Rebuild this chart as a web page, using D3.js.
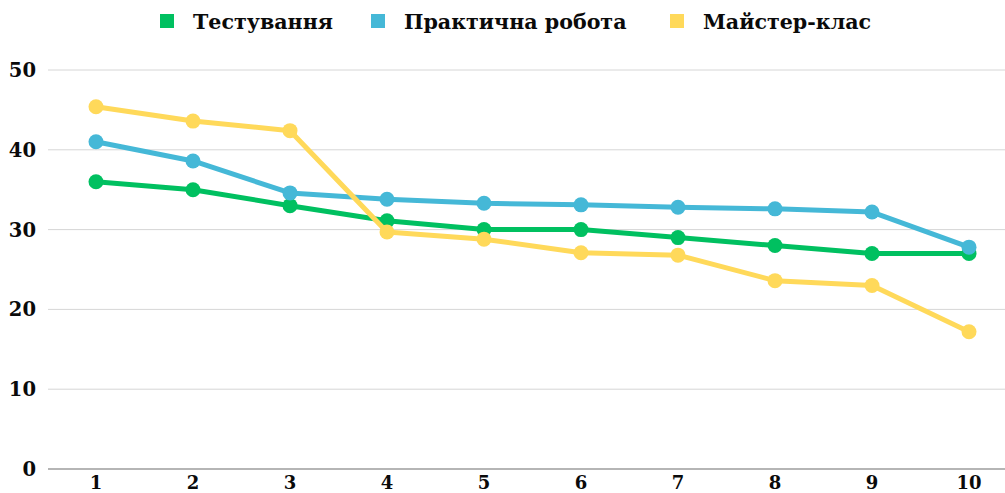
<!DOCTYPE html>
<html>
<head>
<meta charset="utf-8">
<script src="https://cdn.jsdelivr.net/npm/d3@7"></script>
<style>
  body { margin: 0; background: #fff; }
  text { font-family: "DejaVu Serif", "Liberation Serif", serif; font-weight: bold; fill: #0a0a0a; }
</style>
</head>
<body>
<svg id="chart"></svg>
<script>
// data
var categories = ["1", "2", "3", "4", "5", "6", "7", "8", "9", "10"];
var seriesNames = ["Тестування", "Практична робота", "Майстер-клас"];
var testing = [36, 35, 33, 31.1, 30, 30, 29, 28, 27, 27];
var practical = [41, 38.6, 34.6, 33.8, 33.3, 33.1, 32.8, 32.6, 32.2, 27.8];
var masterclass = [45.4, 43.6, 42.4, 29.7, 28.8, 27.1, 26.8, 23.6, 23, 17.2];
var yTicks = [0, 10, 20, 30, 40, 50];
var colors = ["#00c060", "#45b8d7", "#ffd95a"];

var width = 1005, height = 493;
var margin = { top: 70, right: 0, bottom: 24, left: 48 };

var svg = d3.select("#chart")
    .attr("width", width)
    .attr("height", height);

var x = d3.scalePoint()
    .domain(categories)
    .range([96, 969]);

var y = d3.scaleLinear()
    .domain([0, 50])
    .range([469, 70]);

// grid
svg.append("g")
    .selectAll("line")
    .data(yTicks)
    .enter()
    .append("line")
    .attr("x1", margin.left)
    .attr("x2", width)
    .attr("y1", d => y(d))
    .attr("y2", d => y(d))
    .attr("stroke", d => d === 0 ? "#b5b5b5" : "#d6d6d6")
    .attr("stroke-width", d => d === 0 ? 2 : 1);

// y labels
svg.append("g")
    .selectAll("text")
    .data(yTicks)
    .enter()
    .append("text")
    .attr("x", 36)
    .attr("y", d => y(d) + 7)
    .attr("text-anchor", "end")
    .style("font-size", "19.5px")
    .text(d => d);

// x labels
svg.append("g")
    .selectAll("text")
    .data(categories)
    .enter()
    .append("text")
    .attr("x", d => x(d))
    .attr("y", 489)
    .attr("text-anchor", "middle")
    .style("font-size", "18px")
    .text(d => d);

// lines
var allSeries = [testing, practical, masterclass];
var line = d3.line()
    .x((d, i) => x(categories[i]))
    .y(d => y(d));

allSeries.forEach((values, s) => {
    var g = svg.append("g");
    g.append("path")
        .datum(values)
        .attr("fill", "none")
        .attr("stroke", colors[s])
        .attr("stroke-width", 5)
        .attr("stroke-linejoin", "round")
        .attr("d", line);
    g.selectAll("circle")
        .data(values)
        .enter()
        .append("circle")
        .attr("cx", (d, i) => x(categories[i]))
        .attr("cy", d => y(d))
        .attr("r", 7.5)
        .attr("fill", colors[s]);
});

// legend
var legendX = [160, 371, 670];
var legend = svg.append("g");
seriesNames.forEach((name, i) => {
    legend.append("rect")
        .attr("x", legendX[i])
        .attr("y", 14)
        .attr("width", 14)
        .attr("height", 14)
        .attr("fill", colors[i]);
    legend.append("text")
        .attr("x", legendX[i] + 33)
        .attr("y", 29)
        .style("font-size", "20.6px")
        .text(name);
});
</script>
</body>
</html>
